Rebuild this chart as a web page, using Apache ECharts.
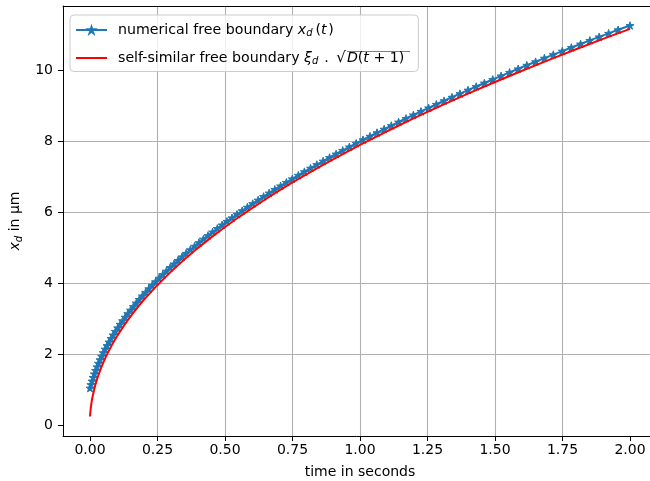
<!DOCTYPE html>
<html>
<head>
<meta charset="utf-8">
<script src="https://cdn.jsdelivr.net/npm/echarts@6/dist/echarts.min.js"></script>
<style>
  html, body { margin: 0; padding: 0; background: #ffffff; overflow: hidden; }
  #chart { width: 650px; height: 481px; }
</style>
</head>
<body>
<div id="chart"></div>
<script>
// Numerical free boundary: time (s) and front position x_d (µm)
const numTime = [
  0.0000, 0.0035, 0.0073, 0.0115, 0.0159, 0.0207, 0.0258, 0.0312, 0.0369, 0.0429,
  0.0493, 0.0559, 0.0629, 0.0702, 0.0778, 0.0858, 0.0940, 0.1026, 0.1115, 0.1207,
  0.1302, 0.1400, 0.1502, 0.1607, 0.1715, 0.1826, 0.1940, 0.2058, 0.2178, 0.2302,
  0.2429, 0.2559, 0.2693, 0.2829, 0.2969, 0.3112, 0.3258, 0.3407, 0.3559, 0.3715,
  0.3873, 0.4035, 0.4200, 0.4369, 0.4540, 0.4715, 0.4893, 0.5073, 0.5258, 0.5445,
  0.5635, 0.5829, 0.6026, 0.6226, 0.6429, 0.6635, 0.6845, 0.7058, 0.7273, 0.7493,
  0.7715, 0.7940, 0.8169, 0.8400, 0.8635, 0.8873, 0.9115, 0.9359, 0.9607, 0.9858,
  1.0112, 1.0369, 1.0629, 1.0893, 1.1159, 1.1429, 1.1702, 1.1978, 1.2258, 1.2540,
  1.2826, 1.3115, 1.3407, 1.3702, 1.4000, 1.4302, 1.4607, 1.4915, 1.5226, 1.5540,
  1.5858, 1.6178, 1.6502, 1.6829, 1.7159, 1.7493, 1.7829, 1.8169, 1.8512, 1.8858,
  1.9207, 1.9559, 2.0000
];
const numFront = [
  1.05, 1.15, 1.25, 1.35, 1.45, 1.55, 1.65, 1.75, 1.85, 1.95,
  2.05, 2.15, 2.25, 2.35, 2.45, 2.55, 2.65, 2.75, 2.85, 2.95,
  3.05, 3.15, 3.25, 3.35, 3.45, 3.55, 3.65, 3.75, 3.85, 3.95,
  4.05, 4.15, 4.25, 4.35, 4.45, 4.55, 4.65, 4.75, 4.85, 4.95,
  5.05, 5.15, 5.25, 5.35, 5.45, 5.55, 5.65, 5.75, 5.85, 5.95,
  6.05, 6.15, 6.25, 6.35, 6.45, 6.55, 6.65, 6.75, 6.85, 6.95,
  7.05, 7.15, 7.25, 7.35, 7.45, 7.55, 7.65, 7.75, 7.85, 7.95,
  8.05, 8.15, 8.25, 8.35, 8.45, 8.55, 8.65, 8.75, 8.85, 8.95,
  9.05, 9.15, 9.25, 9.35, 9.45, 9.55, 9.65, 9.75, 9.85, 9.95,
  10.05, 10.15, 10.25, 10.35, 10.45, 10.55, 10.65, 10.75, 10.85, 10.95,
  11.05, 11.15, 11.27
];

// Self-similar free boundary
const ssTime = [
  0, 0.001, 0.002, 0.004, 0.006, 0.008, 0.01, 0.015, 0.02, 0.025, 0.03, 0.04,
  0.05, 0.06, 0.07, 0.08, 0.09, 0.1, 0.12, 0.14, 0.16, 0.18, 0.2, 0.25,
  0.3, 0.35, 0.4, 0.45, 0.5, 0.55, 0.6, 0.65, 0.7, 0.75, 0.8, 0.85,
  0.9, 0.95, 1.0, 1.1, 1.2, 1.3, 1.4, 1.5, 1.6, 1.7, 1.8, 1.9, 2.0
];
const ssFront = [
  0.250, 0.353, 0.433, 0.559, 0.661, 0.749, 0.829, 0.999, 1.145, 1.274, 1.391, 1.600,
  1.784, 1.951, 2.105, 2.248, 2.383, 2.511, 2.748, 2.966, 3.170, 3.361, 3.542, 3.958,
  4.334, 4.680, 5.003, 5.305, 5.592, 5.864, 6.124, 6.374, 6.614, 6.846, 7.070, 7.288,
  7.499, 7.704, 7.904, 8.289, 8.658, 9.011, 9.351, 9.679, 9.996, 10.303, 10.602, 10.892, 11.175
];

// Tick positions
const xTickValues = [0, 0.25, 0.5, 0.75, 1.0, 1.25, 1.5, 1.75, 2.0];
const yTickValues = [0, 2, 4, 6, 8, 10];

const FONT = 'DejaVu Sans';
const LEG = 14.2;
const starPath = 'path://M0,-1000L-225,-309L-951,-309L-363,118L-588,809L0,382L588,809L363,118L951,-309L225,-309Z';

const zip = (a, b) => a.map((v, i) => [v, b[i]]);

// Thin bar along the top edge of a text box: the vinculum of the square root
function vinculum(h) {
  const c = document.createElement('canvas');
  c.width = 4; c.height = h;
  const ctx = c.getContext('2d');
  ctx.fillStyle = '#000';
  ctx.fillRect(0, 0, 4, 1);
  return c;
}
const OV_H = 15;
const ovBg = { image: vinculum(OV_H) };

const mathRich = {
  n: { fontFamily: FONT, fontSize: LEG, color: '#000' },
  i: { fontFamily: FONT, fontSize: LEG, fontStyle: 'italic', color: '#000' },
  it: { fontFamily: FONT, fontSize: LEG, fontStyle: 'italic', color: '#000', padding: [0, 1.5, 0, 0] },
  sub: { fontFamily: FONT, fontSize: 10, fontStyle: 'italic', color: '#000', padding: [7, 1.5, 0, 0] },
  subT: { fontFamily: FONT, fontSize: 10, fontStyle: 'italic', color: '#000', padding: [7, 3, 0, 0] },
  subAx: { fontFamily: FONT, fontSize: 10, fontStyle: 'italic', color: '#000', padding: [7, 0, 0, 0] },
  ax: { fontFamily: FONT, fontSize: 14, color: '#000' },
  axi: { fontFamily: FONT, fontSize: 14, fontStyle: 'italic', color: '#000' },
  rad: { fontFamily: FONT, fontSize: 15, color: '#000', padding: [0, 1, 0, 3] },
  ov: { fontFamily: FONT, fontSize: LEG, color: '#000', height: OV_H, backgroundColor: ovBg },
  ovEnd: { fontFamily: FONT, fontSize: LEG, color: '#000', height: OV_H, backgroundColor: ovBg, padding: [0, 6, 0, 0] },
  ovi: { fontFamily: FONT, fontSize: LEG, fontStyle: 'italic', color: '#000', height: OV_H, backgroundColor: ovBg }
};

const legendText = {
  numerical: '{n|numerical free boundary }{i|x}{subT|d}{n|(}{it|t}{n|)}',
  selfsimilar: '{n|self-similar free boundary }{i|ξ}{sub|d}{n| . }{rad|√}{ovi|D}{ov|(}{ovi|t}{ov| + 1}{ovEnd|)}'
};

const chart = echarts.init(document.getElementById('chart'), null, { renderer: 'canvas' });

chart.setOption({
  animation: false,
  backgroundColor: '#ffffff',
  grid: { left: 63, right: 0, top: 6, bottom: 45, show: false, containLabel: false, outerBoundsMode: 'none' },
  legend: {
    left: 70, top: 15,
    orient: 'vertical',
    padding: [8, 8, 5, 5],
    itemGap: 12,
    itemWidth: 31,
    itemHeight: 8,
    backgroundColor: 'rgba(255,255,255,0.8)',
    borderColor: '#cccccc',
    borderWidth: 1,
    borderRadius: 4,
    data: [
      { name: 'numerical' },
      { name: 'selfsimilar', itemStyle: { opacity: 0 } }
    ],
    formatter: name => legendText[name],
    textStyle: { fontFamily: FONT, fontSize: LEG, color: '#000', padding: [0, 0, 0, 6], rich: mathRich }
  },
  xAxis: [
    {
      type: 'value',
      min: -0.1, max: 2.074,
      name: 'time in seconds',
      nameLocation: 'middle',
      nameGap: 29,
      nameTextStyle: { fontFamily: FONT, fontSize: 14, color: '#000', padding: [0, 0, 0, 7] },
      axisLine: { show: true, onZero: false, lineStyle: { color: '#000', width: 1 } },
      axisTick: { show: true, length: 5, lineStyle: { color: '#000', width: 1 }, customValues: xTickValues },
      axisLabel: {
        margin: 7, fontFamily: FONT, fontSize: 14, color: '#000',
        customValues: xTickValues,
        formatter: v => v.toFixed(2)
      },
      splitLine: { show: true, showMinLine: false, showMaxLine: false, lineStyle: { color: '#b0b0b0', width: 1.1 } }
    },
    {
      // top frame edge
      type: 'value',
      position: 'top',
      min: -0.1, max: 2.074,
      axisLine: { show: true, onZero: false, lineStyle: { color: '#000', width: 1 } },
      axisTick: { show: false },
      axisLabel: { show: false },
      splitLine: { show: false }
    }
  ],
  yAxis: {
    type: 'value',
    min: -0.3, max: 11.82,
    name: '{axi|x}{subAx|d}{ax| in µm}',
    nameLocation: 'middle',
    nameRotate: 90,
    nameGap: 26,
    nameTextStyle: { fontFamily: FONT, fontSize: 14, color: '#000', rich: mathRich },
    axisLine: { show: true, onZero: false, lineStyle: { color: '#000', width: 1 } },
    axisTick: { show: true, length: 5, lineStyle: { color: '#000', width: 1 }, customValues: yTickValues },
    axisLabel: {
      margin: 10, fontFamily: FONT, fontSize: 14, color: '#000',
      customValues: yTickValues,
      formatter: v => String(v)
    },
    splitLine: { show: true, showMinLine: false, showMaxLine: false, lineStyle: { color: '#b0b0b0', width: 1.1 } }
  },
  series: [
    {
      name: 'numerical',
      type: 'line',
      xAxisIndex: 0,
      data: zip(numTime, numFront),
      showSymbol: true,
      symbol: starPath,
      symbolSize: 8,
      symbolKeepAspect: true,
      lineStyle: { color: '#1f77b4', width: 2 },
      itemStyle: { color: '#1f77b4', borderColor: '#1f77b4', borderWidth: 1 },
      z: 2,
      silent: true
    },
    {
      name: 'selfsimilar',
      type: 'line',
      xAxisIndex: 0,
      data: zip(ssTime, ssFront),
      showSymbol: false,
      symbol: 'none',
      smooth: false,
      lineStyle: { color: '#ff0000', width: 2 },
      itemStyle: { color: '#ff0000' },
      z: 4,
      silent: true
    }
  ]
});
</script>
</body>
</html>
